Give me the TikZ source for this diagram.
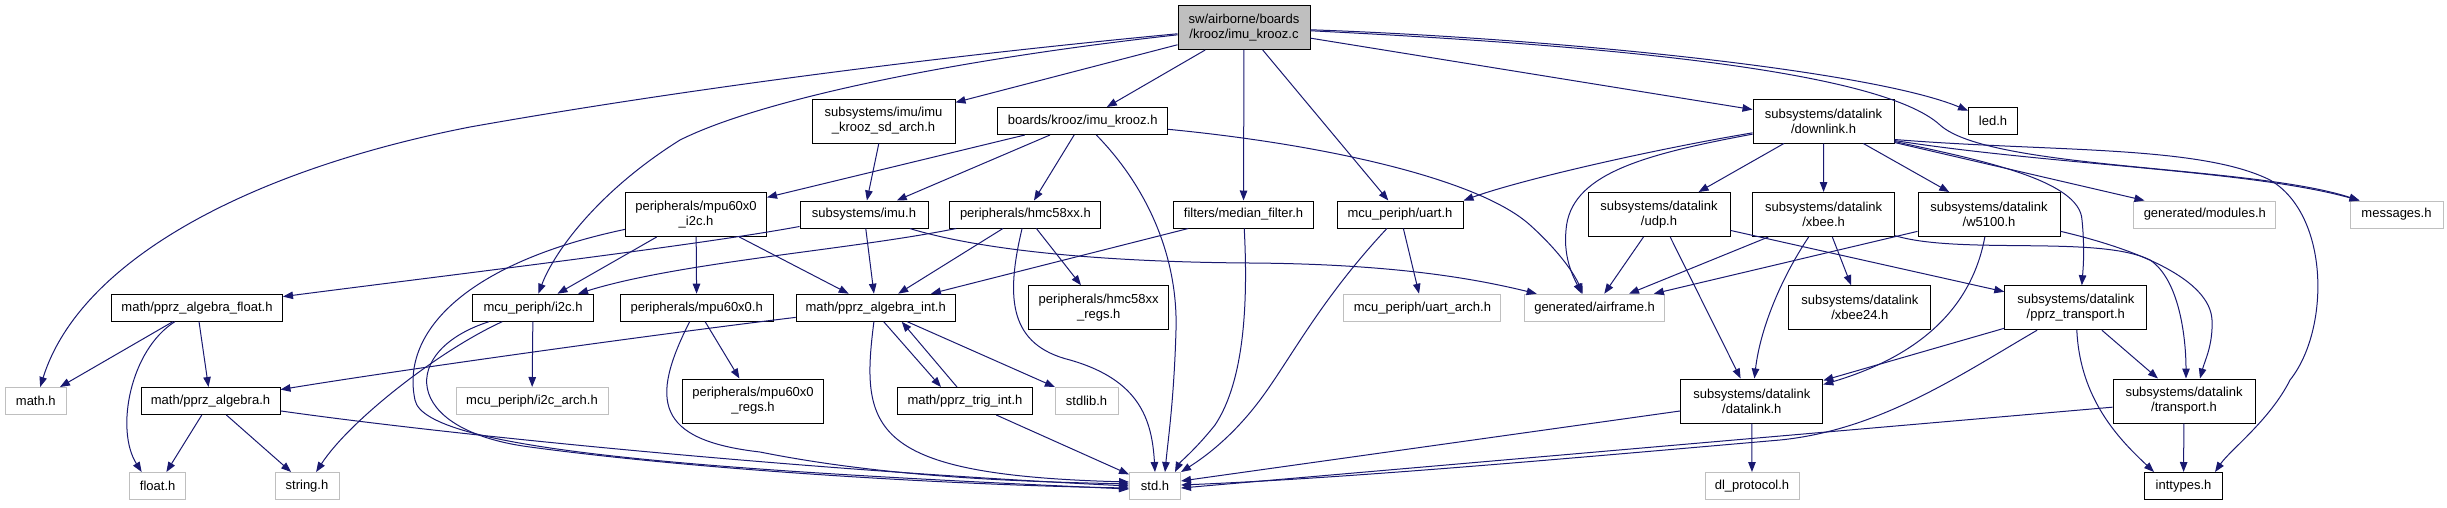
\documentclass[tikz,border=0pt]{standalone}
\usepackage{fontspec}
\setmainfont{Liberation Sans}
\usetikzlibrary{arrows.meta,calc}
\definecolor{edgecol}{RGB}{25,25,112}
\definecolor{lgray}{RGB}{191,191,191}
\begin{document}
\begin{tikzpicture}[x=1pt,y=-1pt,
  bk/.style={draw=black, line width=1pt, fill=white, rectangle, inner sep=0pt, minimum height=27pt, align=center, font=\fontsize{13}{15}\selectfont, text=black},
  gr/.style={bk, draw=lgray},
  two/.style={minimum height=44pt},
  e/.style={draw=edgecol, line width=1pt, -{Triangle[length=10pt,width=7.5pt]}}]
\useasboundingbox (0,0) rectangle (2447,507);
% row 1
\node[bk, two, fill=lgray, minimum width=132pt] (root) at (1244,27.5) {sw/airborne/boards\\/krooz/imu\_krooz.c};
% row 2
\node[bk, two, minimum width=143pt] (sdarch) at (883.5,121) {subsystems/imu/imu\\\_krooz\_sd\_arch.h};
\node[bk, minimum width=170pt] (ikh) at (1082.7,121) {boards/krooz/imu\_krooz.h};
\node[bk, two, minimum width=141pt] (downlink) at (1823.5,121) {subsystems/datalink\\/downlink.h};
\node[bk, minimum width=49pt] (led) at (1993,121) {led.h};
% row 3
\node[bk, two, minimum width=141pt] (mpui2c) at (696,214.5) {peripherals/mpu60x0\\\_i2c.h};
\node[bk, minimum width=128pt] (imu) at (864,214.5) {subsystems/imu.h};
\node[bk, minimum width=151pt] (hmc) at (1025.4,214.5) {peripherals/hmc58xx.h};
\node[bk, minimum width=140pt] (median) at (1243.5,214.5) {filters/median\_filter.h};
\node[bk, minimum width=126pt] (uart) at (1400,214.5) {mcu\_periph/uart.h};
\node[bk, two, minimum width=142pt] (udp) at (1659,214.5) {subsystems/datalink\\/udp.h};
\node[bk, two, minimum width=142pt] (xbee) at (1823.6,214.5) {subsystems/datalink\\/xbee.h};
\node[bk, two, minimum width=142pt] (w5100) at (1989,214.5) {subsystems/datalink\\/w5100.h};
\node[gr, minimum width=142pt] (modules) at (2204.8,214.5) {generated/modules.h};
\node[gr, minimum width=93pt] (messages) at (2396.5,214.5) {messages.h};
% row 4
\node[bk, minimum width=171pt] (float) at (197,307.7) {math/pprz\_algebra\_float.h};
\node[bk, minimum width=121pt] (i2c) at (533,307.7) {mcu\_periph/i2c.h};
\node[bk, minimum width=153pt] (mpu) at (696.7,307.7) {peripherals/mpu60x0.h};
\node[bk, minimum width=159pt] (int) at (875.7,307.7) {math/pprz\_algebra\_int.h};
\node[bk, two, minimum width=140pt] (hmcregs) at (1098.7,307.7) {peripherals/hmc58xx\\\_regs.h};
\node[gr, minimum width=157pt] (uartarch) at (1422.4,307.7) {mcu\_periph/uart\_arch.h};
\node[gr, minimum width=140pt] (airframe) at (1594.6,307.7) {generated/airframe.h};
\node[bk, two, minimum width=142pt] (xbee24) at (1859.8,307.7) {subsystems/datalink\\/xbee24.h};
\node[bk, two, minimum width=142pt] (pprzt) at (2075.8,307.7) {subsystems/datalink\\/pprz\_transport.h};
% row 5
\node[gr, minimum width=61pt] (mathh) at (35.8,401) {math.h};
\node[bk, minimum width=139pt] (alg) at (210.5,401) {math/pprz\_algebra.h};
\node[gr, minimum width=152pt] (i2carch) at (532,401) {mcu\_periph/i2c\_arch.h};
\node[bk, two, minimum width=141pt] (mpuregs) at (753,401) {peripherals/mpu60x0\\\_regs.h};
\node[bk, minimum width=135pt] (trig) at (965,401) {math/pprz\_trig\_int.h};
\node[gr, minimum width=63pt] (stdlib) at (1086.5,401) {stdlib.h};
\node[bk, two, minimum width=142pt] (datalink) at (1751.8,401) {subsystems/datalink\\/datalink.h};
\node[bk, two, minimum width=142pt] (transport) at (2184,401) {subsystems/datalink\\/transport.h};
% row 6
\node[gr, minimum width=56pt] (floath) at (157.7,486) {float.h};
\node[gr, minimum width=64pt] (stringh) at (307,486) {string.h};
\node[gr, minimum width=51pt] (stdh) at (1155,486) {std.h};
\node[gr, minimum width=94pt] (dlproto) at (1752,486) {dl\_protocol.h};
\node[bk, minimum width=78pt] (inttypes) at (2183.5,486) {inttypes.h};

% ---- edges from root
\draw[e] (root) .. controls (900,60) and (650,95) .. (470,127) .. controls (250,170) and (80,260) .. (mathh);
\draw[e] (root) .. controls (950,60) and (760,100) .. (680,140) .. controls (600,190) and (555,250) .. (i2c);
\draw[e] (root) -- (sdarch);
\draw[e] (root) -- (ikh);
\draw[e] (root) -- (median);
\draw[e] (root) -- (uart);
\draw[e] (root) -- (downlink);
\draw[e] (root) .. controls (1550,38) and (1870,70) .. (led);
\draw[e] (root) .. controls (1600,45) and (1880,70) .. (1940,125) .. controls (1990,170) and (2250,165) .. ($(messages.north west)+(10,0)$);
% sdarch
\draw[e] (sdarch) -- (imu);
% ikh
\draw[e] (ikh) -- (imu);
\draw[e] (ikh) -- (mpui2c);
\draw[e] (ikh) -- (hmc);
\draw[e] (ikh) .. controls (1150,190) and (1178,260) .. (1176,330) .. controls (1174,400) and (1168,440) .. ($(stdh.north)+(10,0)$);
\draw[e] (ikh) .. controls (1330,145) and (1480,180) .. (1530,225) .. controls (1560,252) and (1575,275) .. ($(airframe.north)+(-12,0)$);
% downlink
\draw[e] (downlink) -- (udp);
\draw[e] (downlink) -- (xbee);
\draw[e] (downlink) -- (w5100);
\draw[e] (downlink) .. controls (1650,150) and (1520,180) .. (uart.north east);
\draw[e] (downlink) .. controls (1640,155) and (1570,175) .. (1566,230) .. controls (1563,260) and (1575,280) .. ($(airframe.north)+(-13,0)$);
\draw[e] ($(downlink.south east)+(0,-2)$) .. controls (1980,160) and (2080,180) .. (2082,220) .. controls (2085,250) and (2083,270) .. ($(pprzt.north)+(6,0)$);
\draw[e] ($(downlink.south east)+(0,-1)$) -- (modules);
\draw[e] ($(downlink.south east)+(0,-3)$) .. controls (2050,165) and (2250,170) .. ($(messages.north west)+(10,0)$);
\draw[e] ($(downlink.south east)+(0,-4)$) .. controls (2050,152) and (2200,145) .. (2270,180) .. controls (2330,215) and (2330,330) .. (2290,380) .. controls (2270,420) and (2230,450) .. ($(inttypes.north east)+(-8,0)$);
% mpui2c
\draw[e] (mpui2c) -- (i2c);
\draw[e] (mpui2c) -- (mpu);
\draw[e] (mpui2c) -- (int);
\draw[e] (mpui2c) .. controls (470,262) and (400,330) .. (415,400) .. controls (425,450) and (700,470) .. ($(stdh.west)+(0,3)$);
% imu
\draw[e] (imu) .. controls (700,245) and (450,275) .. (float);
\draw[e] (imu) -- (int);
\draw[e] (imu) .. controls (980,250) and (1100,262) .. (1250,263) .. controls (1400,264) and (1480,280) .. (airframe);
% hmc
\draw[e] (hmc) .. controls (850,250) and (680,262) .. (i2c);
\draw[e] (hmc) -- (int);
\draw[e] (hmc) -- (hmcregs);
\draw[e] (hmc) .. controls (1005,300) and (1010,345) .. (1070,360) .. controls (1140,380) and (1152,420) .. (stdh.north);
% median
\draw[e] (median) -- (int);
\draw[e] (median) .. controls (1248,300) and (1245,380) .. (1215,425) .. controls (1195,450) and (1180,462) .. ($(stdh.north east)+(-6,0)$);
% uart
\draw[e] (uart) -- (uartarch);
\draw[e] (uart) .. controls (1320,300) and (1290,360) .. (1260,400) .. controls (1230,440) and (1200,460) .. (stdh.north east);
% float
\draw[e] (float) -- (mathh);
\draw[e] (float) .. controls (130,350) and (115,430) .. ($(floath.north)+(-16,0)$);
\draw[e] (float) -- (alg);
% i2c
\draw[e] (i2c) -- (i2carch);
\draw[e] (i2c) .. controls (440,350) and (350,420) .. (stringh);
\draw[e] (i2c) .. controls (400,350) and (400,430) .. (530,447) .. controls (700,470) and (950,485) .. ($(stdh.west)+(0,2)$);
% mpu
\draw[e] (mpu) -- (mpuregs);
\draw[e] (mpu) .. controls (650,400) and (655,440) .. (760,452) .. controls (900,480) and (1050,482) .. ($(stdh.west)+(0,-2)$);
% int
\draw[e] (int) .. controls (650,335) and (400,370) .. (alg);
\draw[e] ($(int.south)+(8,0)$) -- ($(trig.north)+(-24,0)$);
\draw[e] ($(trig.north)+(-8,0)$) -- ($(int.south)+(26,0)$);
\draw[e] (int) -- (stdlib);
\draw[e] (int) .. controls (860,430) and (870,475) .. ($(stdh.west)+(0,-4)$);
% trig
\draw[e] (trig) -- (stdh);
% alg
\draw[e] (alg) -- (floath);
\draw[e] (alg) -- (stringh);
\draw[e] (alg) .. controls (450,435) and (800,470) .. (stdh.west);
% udp
\draw[e] (udp) -- (airframe);
\draw[e] (udp) -- (datalink);
\draw[e] (udp) -- (pprzt);
% xbee
\draw[e] (xbee) -- (airframe);
\draw[e] (xbee) .. controls (1780,280) and (1760,330) .. (datalink);
\draw[e] (xbee) -- (xbee24);
\draw[e] (xbee) .. controls (1960,255) and (2100,235) .. (2150,260) .. controls (2180,280) and (2186,340) .. ($(transport.north)+(2,0)$);
% w5100
\draw[e] (w5100) -- (airframe);
\draw[e] (w5100) .. controls (1975,290) and (1940,350) .. ($(datalink.north east)+(0,6)$);
\draw[e] (w5100) .. controls (2140,250) and (2210,280) .. (2212,320) .. controls (2213,345) and (2205,360) .. ($(transport.north)+(16,0)$);
% pprzt
\draw[e] (pprzt) -- (datalink);
\draw[e] (pprzt) -- (transport);
\draw[e] (pprzt) .. controls (2080,400) and (2120,440) .. ($(inttypes.north west)+(10,0)$);
\draw[e] (pprzt) .. controls (1960,375) and (1880,430) .. (1780,440) .. controls (1550,460) and (1350,478) .. ($(stdh.east)+(0,-1)$);
% transport
\draw[e] (transport) -- (inttypes);
\draw[e] (transport) -- ($(stdh.east)+(0,2)$);
% datalink
\draw[e] (datalink) -- (dlproto);
\draw[e] (datalink) -- ($(stdh.east)+(0,-5)$);
\end{tikzpicture}
\end{document}
